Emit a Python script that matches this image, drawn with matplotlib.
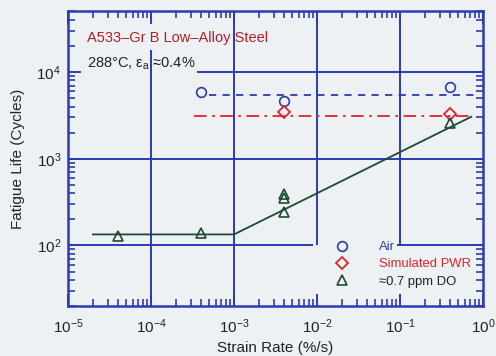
import matplotlib
matplotlib.use("Agg")
import matplotlib.pyplot as plt
from matplotlib.ticker import LogLocator, NullFormatter

plt.rcParams['font.family'] = ['Liberation Sans', 'DejaVu Sans']
plt.rcParams['mathtext.fontset'] = 'custom'
plt.rcParams['mathtext.rm'] = 'Liberation Sans'
plt.rcParams['mathtext.it'] = 'Liberation Sans:italic'
plt.rcParams['mathtext.default'] = 'regular'

# fatigue life vs strain rate, A533-Gr B, 288 C
air_rate = [4e-4, 4e-3, 0.4]
air_life = [5900, 4600, 6800]
pwr_rate = [4e-3, 0.4]
pwr_life = [3450, 3300]
do_rate = [4e-5, 4e-4, 4e-3, 4e-3, 4e-3, 0.4]
do_life = [128, 138, 390, 350, 240, 2600]

# mean air / PWR levels and the fitted curve for 0.7 ppm DO
air_mean_x = [5e-4, 0.9]
air_mean_y = [5500, 5500]
pwr_mean_x = [3.3e-4, 0.73]
pwr_mean_y = [3100, 3100]
fit_x = [2e-5, 1e-3, 0.72]
fit_y = [134, 134, 3050]

bg = '#edf1f4'
blue = '#2b3cb0'
red = '#e0242a'
green = '#1d4a33'

fig = plt.figure(figsize=(4.96, 3.56), dpi=100, facecolor=bg)
ax = fig.add_axes([0.137, 0.1404, 0.837, 0.8273], facecolor=bg)
ax.set_xscale('log')
ax.set_yscale('log')
ax.set_xlim(1e-5, 1)
ax.set_ylim(20, 5e4)

# grid lines, broken around the annotations and legend
gkw = dict(color=blue, lw=1.4, zorder=1)
ax.hlines(1e4, 3.6e-4, 1, **gkw)
ax.hlines(1e3, 1e-5, 1, **gkw)
ax.hlines(1e2, 1e-5, 8.9e-3, **gkw)
ax.hlines(1e2, 0.092, 1, **gkw)
ax.vlines(1e-4, 20, 1.8e4, **gkw)
ax.vlines(1e-3, 20, 5e4, **gkw)
ax.vlines(1e-2, 100, 5e4, **gkw)
ax.vlines(1e-1, 100, 5e4, **gkw)

ax.plot(air_mean_x, air_mean_y, color=blue, lw=1.3, ls=(0, (4, 3.5)), zorder=2)
ax.plot(pwr_mean_x, pwr_mean_y, color=red, lw=1.3, ls=(0, (7, 3, 1.5, 3)), zorder=2)
ax.plot(fit_x, fit_y, color=green, lw=1.3, zorder=2)

h1, = ax.plot(air_rate, air_life, 'o', ms=7, mfc='none', mec='#2b3ca8', mew=1.2,
              ls='none', zorder=3, label='Air')
h2, = ax.plot(pwr_rate, pwr_life, 'D', ms=6, mfc='none', mec=red, mew=1.3,
              ls='none', zorder=3, label='Simulated PWR')
h3, = ax.plot(do_rate, do_life, '^', ms=7, mfc='none', mec=green, mew=1.2,
              ls='none', zorder=3, label='\u22480.7 ppm DO')

leg = ax.legend(handles=[h1, h2, h3], loc='upper left', bbox_to_anchor=(0.629, 0.243),
                frameon=False, fontsize=9.4, handlelength=1.0, handletextpad=2.35,
                labelspacing=0.4, borderpad=0)
for t, c in zip(leg.get_texts(), ['#2b3ca8', red, '#222222']):
    t.set_color(c)

ax.text(1.7e-5, 2.5e4, 'A533\u2013Gr B Low\u2013Alloy Steel', color='#b02028',
        fontsize=10.5, va='center')
ax.text(1.7e-5, 1.25e4, '288\u00b0C, $\\varepsilon_a$ \u22480.4%', color='#222222',
        fontsize=10.5, va='center')

for s in ax.spines.values():
    s.set_color(blue)
    s.set_linewidth(1.8)
ax.xaxis.set_minor_locator(LogLocator(base=10, subs=range(2, 10)))
ax.yaxis.set_minor_locator(LogLocator(base=10, subs=range(2, 10)))
ax.xaxis.set_minor_formatter(NullFormatter())
ax.yaxis.set_minor_formatter(NullFormatter())
ax.tick_params(which='both', direction='in', top=True, right=True, color=blue,
               labelsize=11, labelcolor='#222222')
ax.tick_params(which='major', length=9, width=1.4)
ax.tick_params(which='minor', length=5, width=1.2)
ax.tick_params(axis='x', which='major', pad=8)
ax.tick_params(axis='y', which='major', pad=5)

ax.set_xlabel('Strain Rate (%/s)', fontsize=11, color='#222222', labelpad=4)
ax.set_ylabel('Fatigue Life (Cycles)', fontsize=11, color='#222222', labelpad=8)

fig.savefig('out.png', dpi=100, facecolor=bg)
